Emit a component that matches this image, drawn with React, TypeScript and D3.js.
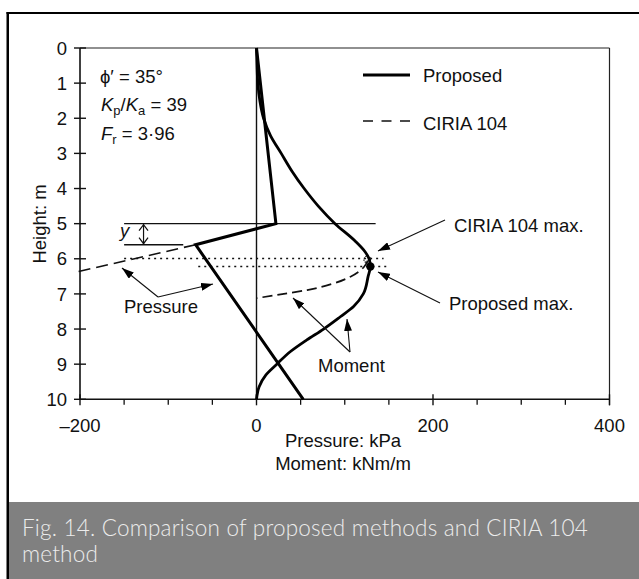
import React from 'react';
import * as d3 from 'd3';

// ---- data ----
const heightTicks = [0, 1, 2, 3, 4, 5, 6, 7, 8, 9, 10];
const majorXTicks = [-200, 0, 200, 400];
const majorXLabels = ['–200', '0', '200', '400'];
const minorXTicks = [-150, -100, -50, 50, 100, 150, 250, 300, 350];

const proposedPressure = [
  { p: 0, h: 0 },
  { p: 22, h: 5 },
  { p: -69, h: 5.6 },
  { p: 53, h: 10 },
];
const ciriaPressure = [
  { p: -69, h: 5.6 },
  { p: -205, h: 6.38 },
];
const proposedMoment = [
  { m: 0, h: 0 },
  { m: 0.6, h: 0.5 },
  { m: 1.5, h: 1 },
  { m: 3.8, h: 1.5 },
  { m: 8, h: 2 },
  { m: 16, h: 2.5 },
  { m: 28, h: 3 },
  { m: 40, h: 3.5 },
  { m: 54, h: 4 },
  { m: 70, h: 4.5 },
  { m: 89, h: 5 },
  { m: 112, h: 5.5 },
  { m: 123, h: 5.8 },
  { m: 127.5, h: 6.0 },
  { m: 129, h: 6.22 },
  { m: 126.5, h: 6.5 },
  { m: 121, h: 7.0 },
  { m: 110, h: 7.36 },
  { m: 95, h: 7.65 },
  { m: 76, h: 8.0 },
  { m: 57, h: 8.31 },
  { m: 38.5, h: 8.64 },
  { m: 23, h: 9.0 },
  { m: 10.5, h: 9.31 },
  { m: 3, h: 9.64 },
  { m: 0, h: 10 },
];
const ciriaMoment = [
  { m: 126, h: 6.05 },
  { m: 121.5, h: 6.24 },
  { m: 106.5, h: 6.51 },
  { m: 87.6, h: 6.7 },
  { m: 57.4, h: 6.89 },
  { m: 31, h: 7.0 },
  { m: 0, h: 7.12 },
];
const solidRefLines = [
  { h: 5, p0: -150, p1: 135 },
  { h: 5.6, p0: -150, p1: -83 },
];
const dottedRefLines = [
  { h: 5.99, p0: -150, p1: 144 },
  { h: 6.22, p0: -66, p1: 149 },
];
const proposedMax = { m: 129, h: 6.22 };
const ciriaMax = { m: 125.5, h: 6.02 };

const captionLines = ['Fig. 14. Comparison of proposed methods and CIRIA 104', 'method'];

const FONT = "'Liberation Sans', Arial, Helvetica, sans-serif";
const FS = 18.5;

export default function App() {
  const W = 639;
  const H = 579;
  const x = d3.scaleLinear().domain([-200, 400]).range([80, 609.5]);
  const y = d3.scaleLinear().domain([0, 10]).range([48, 399.3]);

  const lineP = d3
    .line<{ p: number; h: number }>()
    .x((d) => x(d.p))
    .y((d) => y(d.h));
  const lineM = d3
    .line<{ m: number; h: number }>()
    .x((d) => x(d.m))
    .y((d) => y(d.h))
    .curve(d3.curveMonotoneY);

  const x0 = x(-200);
  const x1 = x(400);
  const y0 = y(0);
  const y1 = y(10);

  const ax = x(-128);
  const ayTop = y(5);
  const ayBot = y(5.6);

  return (
    <div style={{ position: 'absolute', left: 0, top: 0 }}>
      <svg width={W} height={H} style={{ display: 'block', background: '#fff' }}>
        <defs>
          <marker
            id="ah"
            viewBox="0 0 12 8"
            refX="12"
            refY="4"
            markerWidth="12"
            markerHeight="8"
            markerUnits="userSpaceOnUse"
            orient="auto"
          >
            <path d="M0,0 L12,4 L0,8 Z" fill="#000" />
          </marker>
        </defs>

        {/* outer frame */}
        <line x1={7.75} y1={12} x2={7.75} y2={H} stroke="#000" strokeWidth={2.5} />
        <line x1={6.5} y1={13} x2={W} y2={13} stroke="#000" strokeWidth={2.2} />

        {/* caption */}
        <rect x={9} y={502} width={W - 9} height={H - 502} fill="#808080" />
        {captionLines.map((t, i) => (
          <text
            key={'cap' + i}
            x={22}
            y={536 + i * 26}
            fill="#ececec"
            fontFamily="Lato, 'Open Sans', sans-serif"
            fontSize={22.5}
            fontWeight={300}
            letterSpacing={0.2}
          >
            {t}
          </text>
        ))}

        {/* plot frame */}
        <line x1={x0} y1={y0} x2={x1} y2={y0} stroke="#222" strokeWidth={1.2} />
        <line x1={x1} y1={y0} x2={x1} y2={y1 + 6} stroke="#222" strokeWidth={1.2} />
        <line x1={x0} y1={y0} x2={x0} y2={y1} stroke="#111" strokeWidth={1.6} />
        <line x1={x0} y1={y1} x2={x1} y2={y1} stroke="#111" strokeWidth={1.6} />
        <line x1={x(0)} y1={y0} x2={x(0)} y2={y1} stroke="#111" strokeWidth={1.4} />

        {/* y ticks */}
        {heightTicks.map((t) => (
          <g key={'yt' + t}>
            <line x1={x0 - 6} x2={x0 + 6} y1={y(t)} y2={y(t)} stroke="#111" strokeWidth={1.4} />
            <text x={67} y={y(t) + 6.6} textAnchor="end" fontFamily={FONT} fontSize={FS} fill="#111">
              {t}
            </text>
          </g>
        ))}
        {/* x ticks */}
        {majorXTicks.map((t, i) => (
          <g key={'xt' + t}>
            <line x1={x(t)} x2={x(t)} y1={y1 - 5} y2={y1 + 6} stroke="#111" strokeWidth={1.4} />
            <text x={x(t)} y={432} textAnchor="middle" fontFamily={FONT} fontSize={FS} fill="#111">
              {majorXLabels[i]}
            </text>
          </g>
        ))}
        {minorXTicks.map((t) => (
          <line key={'xm' + t} x1={x(t)} x2={x(t)} y1={y1} y2={y1 + 5.5} stroke="#111" strokeWidth={1.3} />
        ))}

        {/* axis titles */}
        <text transform={`translate(46, 224) rotate(-90)`} textAnchor="middle" fontFamily={FONT} fontSize={FS} fill="#111">
          Height: m
        </text>
        <text x={343} y={447} textAnchor="middle" fontFamily={FONT} fontSize={FS} fill="#111">
          Pressure: kPa
        </text>
        <text x={343} y={470} textAnchor="middle" fontFamily={FONT} fontSize={FS} fill="#111">
          Moment: kNm/m
        </text>

        {/* reference lines */}
        {solidRefLines.map((r, i) => (
          <line key={'sr' + i} x1={x(r.p0)} x2={x(r.p1)} y1={y(r.h)} y2={y(r.h)} stroke="#111" strokeWidth={1.3} />
        ))}
        {dottedRefLines.map((r, i) => (
          <line
            key={'dr' + i}
            x1={x(r.p0)}
            x2={x(r.p1)}
            y1={y(r.h)}
            y2={y(r.h)}
            stroke="#111"
            strokeWidth={1.6}
            strokeDasharray="2 4"
          />
        ))}

        {/* curves */}
        <path d={lineP(ciriaPressure) || ''} fill="none" stroke="#111" strokeWidth={1.6} strokeDasharray="12 6" />
        <path d={lineM(ciriaMoment) || ''} fill="none" stroke="#111" strokeWidth={1.7} strokeDasharray="10 5" />
        <path d={lineP(proposedPressure) || ''} fill="none" stroke="#000" strokeWidth={3} strokeLinejoin="miter" />
        <path d={lineM(proposedMoment) || ''} fill="none" stroke="#000" strokeWidth={2.8} />

        {/* max markers */}
        <circle cx={x(proposedMax.m)} cy={y(proposedMax.h)} r={4.2} fill="#000" />
        <circle
          cx={x(ciriaMax.m)}
          cy={y(ciriaMax.h)}
          r={3.3}
          fill="none"
          stroke="#000"
          strokeWidth={1.2}
          strokeDasharray="1.2 1"
        />

        {/* y marker */}
        <line x1={ax} x2={ax} y1={ayTop} y2={ayBot} stroke="#111" strokeWidth={1.2} />
        <polyline points={`${ax - 4.5},${ayTop + 7} ${ax},${ayTop + 1} ${ax + 4.5},${ayTop + 7}`} fill="none" stroke="#111" strokeWidth={1.2} />
        <polyline points={`${ax - 4.5},${ayBot - 7} ${ax},${ayBot - 1} ${ax + 4.5},${ayBot - 7}`} fill="none" stroke="#111" strokeWidth={1.2} />
        <text x={120} y={237} fontFamily={FONT} fontSize={FS} fontStyle="italic" fill="#111">
          y
        </text>

        {/* parameter annotations */}
        <text x={100} y={83} fontFamily={FONT} fontSize={FS} fill="#111">
          ϕ′ = 35°
        </text>
        <text x={101} y={111} fontFamily={FONT} fontSize={FS} fill="#111">
          <tspan fontStyle="italic">K</tspan>
          <tspan fontSize={13} dy={4}>p</tspan>
          <tspan dy={-4}>/</tspan>
          <tspan fontStyle="italic">K</tspan>
          <tspan fontSize={13} dy={4}>a</tspan>
          <tspan dy={-4}> = 39</tspan>
        </text>
        <text x={101} y={140} fontFamily={FONT} fontSize={FS} fill="#111">
          <tspan fontStyle="italic">F</tspan>
          <tspan fontSize={13} dy={4}>r</tspan>
          <tspan dy={-4}> = 3·96</tspan>
        </text>

        {/* legend */}
        <line x1={363} x2={410} y1={75} y2={75} stroke="#000" strokeWidth={3} />
        <text x={423} y={82} fontFamily={FONT} fontSize={FS} fill="#111">
          Proposed
        </text>
        <line x1={363} x2={410} y1={121} y2={121} stroke="#111" strokeWidth={1.6} strokeDasharray="10 8.5" />
        <text x={423} y={130} fontFamily={FONT} fontSize={FS} fill="#111">
          CIRIA 104
        </text>

        {/* callouts */}
        <text x={454} y={232} fontFamily={FONT} fontSize={FS} fill="#111">
          CIRIA 104 max.
        </text>
        <line x1={445} y1={220} x2={378} y2={251} stroke="#111" strokeWidth={1.1} markerEnd="url(#ah)" />
        <text x={449} y={310} fontFamily={FONT} fontSize={FS} fill="#111">
          Proposed max.
        </text>
        <line x1={440} y1={303} x2={378} y2={272} stroke="#111" strokeWidth={1.1} markerEnd="url(#ah)" />

        <text x={124} y={313} fontFamily={FONT} fontSize={FS} fill="#111">
          Pressure
        </text>
        <line x1={158} y1={297} x2={122} y2={268} stroke="#111" strokeWidth={1.1} markerEnd="url(#ah)" />
        <line x1={158} y1={297} x2={213} y2={284} stroke="#111" strokeWidth={1.1} markerEnd="url(#ah)" />

        <text x={318} y={372} fontFamily={FONT} fontSize={FS} fill="#111">
          Moment
        </text>
        <line x1={350} y1={352} x2={293} y2={298} stroke="#111" strokeWidth={1.1} markerEnd="url(#ah)" />
        <line x1={350} y1={352} x2={347} y2={319} stroke="#111" strokeWidth={1.1} markerEnd="url(#ah)" />
      </svg>
    </div>
  );
}
